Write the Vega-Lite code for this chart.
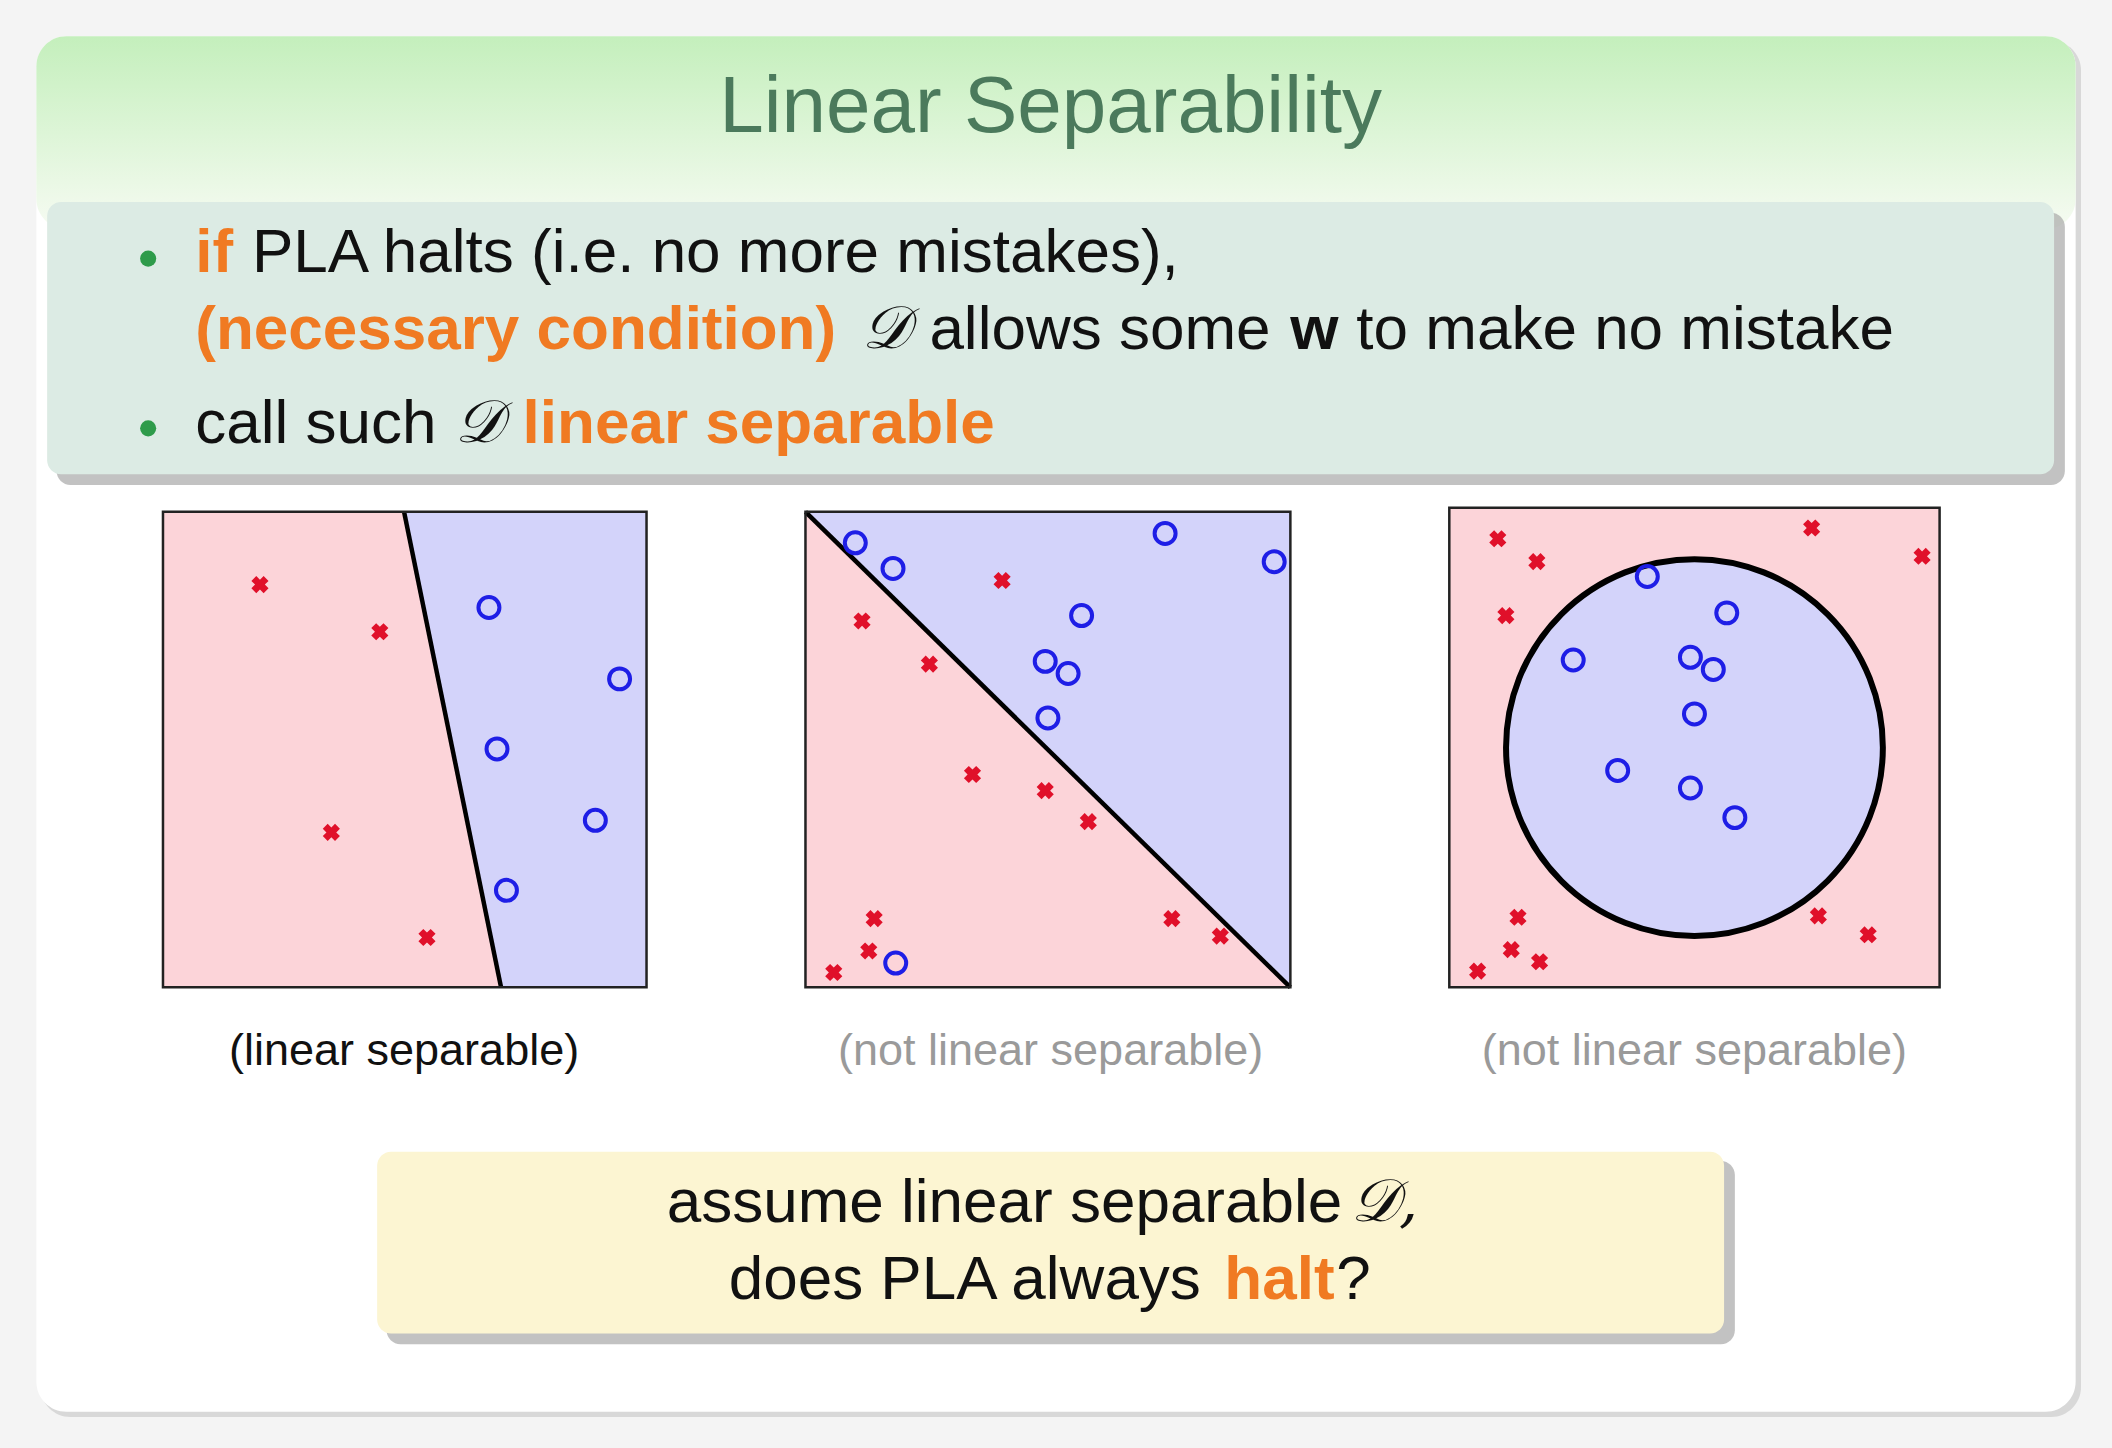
{
  "$schema": "https://vega.github.io/schema/vega-lite/v6.json",
  "width": 2112,
  "height": 1448,
  "autosize": {"type": "fit", "contains": "padding"},
  "padding": 0,
  "background": "#f4f4f4",
  "config": {"view": {"stroke": null}, "text": {"font": "Liberation Sans", "baseline": "middle"}},
  "encoding": {
    "x": {"field": "x", "type": "quantitative", "scale": {"domain": [0, 1568], "nice": false, "zero": false}, "axis": null},
    "y": {"field": "y", "type": "quantitative", "scale": {"domain": [0, 1075], "nice": false, "zero": false, "reverse": true}, "axis": null}
  },
  "layer": [
    {"data": {"values": [{"x": 30, "x2": 1545, "y": 30, "y2": 1052}]}, "mark": {"type": "rect", "color": "#d8d8d8", "cornerRadius": 30}, "encoding": {"x2": {"field": "x2"}, "y2": {"field": "y2"}}},
    {"data": {"values": [{"x": 27, "x2": 1541, "y": 27, "y2": 1048}]}, "mark": {"type": "rect", "color": "white", "cornerRadius": 30}, "encoding": {"x2": {"field": "x2"}, "y2": {"field": "y2"}}},
    {"data": {"values": [{"x": 27, "x2": 1541, "y": 27, "y2": 170}]}, "mark": {"type": "rect", "cornerRadius": 30, "color": {"gradient": "linear", "x1": 0, "y1": 0, "x2": 0, "y2": 1, "stops": [{"offset": 0, "color": "#c4efbc"}, {"offset": 1, "color": "#f6fbf2"}]}}, "encoding": {"x2": {"field": "x2"}, "y2": {"field": "y2"}}},
    {"data": {"values": [{"x": 42, "x2": 1533, "y": 158, "y2": 360}, {"x": 287, "x2": 1288, "y": 862, "y2": 998}]}, "mark": {"type": "rect", "color": "#a8a8a8", "cornerRadius": 14, "opacity": 0.7}, "encoding": {"x2": {"field": "x2"}, "y2": {"field": "y2"}}},
    {"data": {"values": [{"x": 35, "x2": 1525, "y": 150, "y2": 352}]}, "mark": {"type": "rect", "color": "#dcebe4", "cornerRadius": 14}, "encoding": {"x2": {"field": "x2"}, "y2": {"field": "y2"}}},
    {"data": {"values": [{"x": 280, "x2": 1280, "y": 855, "y2": 990}]}, "mark": {"type": "rect", "color": "#fcf5d2", "cornerRadius": 14}, "encoding": {"x2": {"field": "x2"}, "y2": {"field": "y2"}}},
    {"data": {"values": [{"x": 121, "x2": 480, "y": 380, "y2": 733}, {"x": 598, "x2": 958, "y": 380, "y2": 733}, {"x": 1076, "x2": 1440, "y": 377, "y2": 733}]}, "mark": {"type": "rect", "color": "#fcd4d9"}, "encoding": {"x2": {"field": "x2"}, "y2": {"field": "y2"}}},
    {"data": {"values": [{"y": 380, "x": 300, "x2": 480}, {"y": 733, "x": 372, "x2": 480}]}, "mark": {"type": "area", "orient": "horizontal", "color": "#d3d3fa"}, "encoding": {"x2": {"field": "x2"}}},
    {"data": {"values": [{"x": 598, "y": 380, "y2": 380}, {"x": 958, "y": 733, "y2": 380}]}, "mark": {"type": "area", "color": "#d3d3fa"}, "encoding": {"y2": {"field": "y2"}}},
    {"data": {"values": [{"x": 1258, "y": 555}]}, "mark": {"type": "point", "shape": "circle", "size": 142000, "filled": true, "fill": "#d3d3fa", "stroke": "black", "strokeWidth": 6, "opacity": 1}},
    {"data": {"values": [{"x": 300, "y": 380, "x2": 372, "y2": 733}, {"x": 598, "y": 380, "x2": 958, "y2": 733}]}, "mark": {"type": "rule", "color": "black", "strokeWidth": 4.5}, "encoding": {"x2": {"field": "x2"}, "y2": {"field": "y2"}}},
    {"data": {"values": [{"x": 121, "x2": 480, "y": 380, "y2": 733}, {"x": 598, "x2": 958, "y": 380, "y2": 733}, {"x": 1076, "x2": 1440, "y": 377, "y2": 733}]}, "mark": {"type": "rect", "fill": null, "stroke": "#222", "strokeWidth": 2.5}, "encoding": {"x2": {"field": "x2"}, "y2": {"field": "y2"}}},
    {"data": {"values": [
      {"x": 193, "y": 434}, {"x": 282, "y": 469}, {"x": 246, "y": 618}, {"x": 317, "y": 696},
      {"x": 744, "y": 431}, {"x": 640, "y": 461}, {"x": 690, "y": 493}, {"x": 722, "y": 575}, {"x": 776, "y": 587}, {"x": 808, "y": 610}, {"x": 870, "y": 682}, {"x": 906, "y": 695}, {"x": 649, "y": 682}, {"x": 645, "y": 706}, {"x": 619, "y": 722},
      {"x": 1112, "y": 400}, {"x": 1141, "y": 417}, {"x": 1345, "y": 392}, {"x": 1427, "y": 413}, {"x": 1118, "y": 457}, {"x": 1127, "y": 681}, {"x": 1122, "y": 705}, {"x": 1143, "y": 714}, {"x": 1097, "y": 721}, {"x": 1350, "y": 680}, {"x": 1387, "y": 694}
    ]}, "mark": {"type": "point", "shape": "cross", "angle": 45, "size": 300, "filled": true, "color": "#e0102a", "opacity": 1}},
    {"data": {"values": [
      {"x": 363, "y": 451}, {"x": 460, "y": 504}, {"x": 369, "y": 556}, {"x": 442, "y": 609}, {"x": 376, "y": 661},
      {"x": 635, "y": 403}, {"x": 663, "y": 422}, {"x": 865, "y": 396}, {"x": 946, "y": 417}, {"x": 803, "y": 457}, {"x": 776, "y": 491}, {"x": 793, "y": 500}, {"x": 778, "y": 533}, {"x": 665, "y": 715},
      {"x": 1223, "y": 428}, {"x": 1282, "y": 455}, {"x": 1168, "y": 490}, {"x": 1255, "y": 488}, {"x": 1272, "y": 497}, {"x": 1258, "y": 530}, {"x": 1201, "y": 572}, {"x": 1255, "y": 585}, {"x": 1288, "y": 607}
    ]}, "mark": {"type": "point", "shape": "circle", "size": 440, "filled": false, "stroke": "#1e1ee6", "strokeWidth": 4, "opacity": 1}},
    {"data": {"values": [{"x": 110, "y": 192}, {"x": 110, "y": 318}]}, "mark": {"type": "point", "shape": "circle", "size": 260, "filled": true, "color": "#2e9b4a", "opacity": 1}},
    {"data": {"values": [{"x": 780, "y": 80, "t": "Linear Separability"}]}, "mark": {"type": "text", "fontSize": 80, "color": "#4b7a5c", "align": "center"}, "encoding": {"text": {"field": "t"}}},
    {"data": {"values": [
      {"x": 187, "y": 188, "t": "PLA halts (i.e.  no more mistakes),"},
      {"x": 690, "y": 245, "t": "allows some"},
      {"x": 1007, "y": 245, "t": "to make no mistake"},
      {"x": 145, "y": 315, "t": "call such"},
      {"x": 495, "y": 893, "t": "assume linear separable"},
      {"x": 541, "y": 950, "t": "does PLA always"},
      {"x": 992, "y": 950, "t": "?"}
    ]}, "mark": {"type": "text", "fontSize": 62, "color": "#111", "align": "left"}, "encoding": {"text": {"field": "t"}}},
    {"data": {"values": [
      {"x": 640, "y": 245, "t": "𝒟"}, {"x": 338, "y": 315, "t": "𝒟"}, {"x": 1003, "y": 893, "t": "𝒟,"}
    ]}, "mark": {"type": "text", "fontSize": 60, "color": "#111", "align": "left", "font": "DejaVu Serif", "fontStyle": "italic"}, "encoding": {"text": {"field": "t"}}},
    {"data": {"values": [{"x": 958, "y": 245, "t": "w"}]}, "mark": {"type": "text", "fontSize": 62, "color": "#111", "align": "left", "fontWeight": "bold"}, "encoding": {"text": {"field": "t"}}},
    {"data": {"values": [
      {"x": 145, "y": 188, "t": "if"},
      {"x": 145, "y": 245, "t": "(necessary condition)"},
      {"x": 388, "y": 315, "t": "linear separable"},
      {"x": 909, "y": 950, "t": "halt"}
    ]}, "mark": {"type": "text", "fontSize": 62, "color": "#f07a22", "align": "left", "fontWeight": "bold"}, "encoding": {"text": {"field": "t"}}},
    {"data": {"values": [
      {"x": 300, "y": 780, "t": "(linear separable)", "c": "black"},
      {"x": 780, "y": 780, "t": "(not linear separable)", "c": "gray"},
      {"x": 1258, "y": 780, "t": "(not linear separable)", "c": "gray"}
    ]}, "mark": {"type": "text", "fontSize": 45, "align": "center"}, "encoding": {"text": {"field": "t"}, "color": {"field": "c", "type": "nominal", "scale": {"domain": ["black", "gray"], "range": ["#111", "#9a9a9a"]}, "legend": null}}}
  ]
}
